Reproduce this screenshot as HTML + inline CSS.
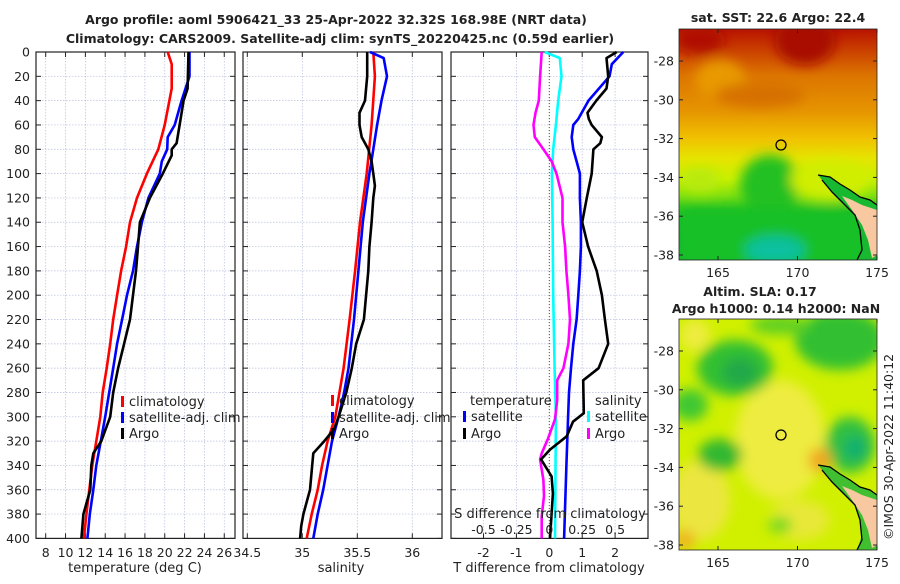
<!DOCTYPE html>
<html><head><meta charset="utf-8">
<style>
html,body{margin:0;padding:0;background:#fff;}
body{width:900px;height:580px;overflow:hidden;font-family:"DejaVu Sans","Liberation Sans",sans-serif;}
svg text{font-family:"DejaVu Sans","Liberation Sans",sans-serif;fill:#222;}
</style></head>
<body>
<svg id="fig" width="900" height="580" viewBox="0 0 900 580" xmlns="http://www.w3.org/2000/svg">
<defs>
<filter id="blur6" x="-20%" y="-20%" width="140%" height="140%"><feGaussianBlur stdDeviation="6"/></filter>
<clipPath id="clipTop"><rect x="679" y="29" width="198" height="231"/></clipPath>
<clipPath id="clipBot"><rect x="679" y="319" width="198" height="231"/></clipPath>
<linearGradient id="sstGrad" x1="0" y1="0" x2="0" y2="1">
<stop offset="0" stop-color="#b81200"/>
<stop offset="0.08" stop-color="#c83a00"/>
<stop offset="0.2" stop-color="#dc7400"/>
<stop offset="0.36" stop-color="#e69600"/>
<stop offset="0.47" stop-color="#f0c000"/>
<stop offset="0.56" stop-color="#e6e400"/>
<stop offset="0.65" stop-color="#c8f000"/>
<stop offset="0.72" stop-color="#80e010"/>
<stop offset="0.8" stop-color="#20c020"/>
<stop offset="1" stop-color="#10b830"/>
</linearGradient>
</defs>
<g id="titles">
<text x="336" y="24" font-size="12.5" font-weight="bold" text-anchor="middle">Argo profile: aoml 5906421_33 25-Apr-2022 32.32S 168.98E (NRT data)</text>
<text x="340" y="43" font-size="12.5" font-weight="bold" text-anchor="middle">Climatology: CARS2009. Satellite-adj clim: synTS_20220425.nc (0.59d earlier)</text>
</g>
<g id="p1"></g><g id="p2"></g><g id="p3"></g>
<g id="maps">
<g clip-path="url(#clipTop)">
<rect x="679" y="29" width="198" height="231" fill="url(#sstGrad)"/>
<g filter="url(#blur6)">
<ellipse cx="805" cy="40" rx="30" ry="25" fill="#a80800"/>
<ellipse cx="700" cy="40" rx="25" ry="14" fill="#b01000"/>
<ellipse cx="720" cy="80" rx="25" ry="20" fill="#e89a00"/>
<ellipse cx="760" cy="95" rx="45" ry="12" fill="#d67000"/>
<ellipse cx="770" cy="185" rx="30" ry="30" fill="#20c020"/>
<ellipse cx="700" cy="180" rx="20" ry="12" fill="#b8ea10"/>
<ellipse cx="830" cy="180" rx="40" ry="20" fill="#d0ee00"/>
<rect x="679" y="208" width="198" height="60" fill="#18c028"/>
<ellipse cx="775" cy="250" rx="30" ry="14" fill="#10c0a0"/>
</g>
<path d="M818,175 L830,177 L840,184 L850,190 L860,197 L870,200 L877,205 L877,260 L857,260 L862,245 L860,230 L855,215 L845,205 L832,192 L822,180 Z" fill="#18b830"/>
<path d="M842,196 L852,200 L862,205 L877,210 L877,255 L872,258 L868,240 L862,225 L852,210 Z" fill="#f8c8a0"/>
<path d="M818,175 L830,177 L840,184 L850,190 L860,197 L870,200 L877,205 M822,180 L832,192 L845,205 L855,215 L860,230 L862,250 L857,260" fill="none" stroke="#000" stroke-width="1.3"/>
<circle cx="781" cy="145" r="5" fill="none" stroke="#000" stroke-width="1.3"/>
</g>
<rect x="679" y="29" width="198" height="231" fill="none" stroke="#222" stroke-width="0.8"/>
<g clip-path="url(#clipBot)">
<rect x="679" y="319" width="198" height="231" fill="#d0f000"/>
<g filter="url(#blur6)">
<ellipse cx="780" cy="440" rx="45" ry="60" fill="#eeec40"/>
<ellipse cx="700" cy="500" rx="30" ry="40" fill="#ece640"/>
<ellipse cx="800" cy="520" rx="30" ry="20" fill="#e8e838"/>
<ellipse cx="695" cy="335" rx="15" ry="16" fill="#eeec40"/>
<ellipse cx="735" cy="368" rx="38" ry="28" fill="#30c030"/>
<ellipse cx="740" cy="372" rx="18" ry="14" fill="#20a848"/>
<ellipse cx="690" cy="405" rx="18" ry="16" fill="#40c830"/>
<ellipse cx="840" cy="340" rx="45" ry="30" fill="#30c030"/>
<ellipse cx="780" cy="325" rx="30" ry="10" fill="#60d020"/>
<ellipse cx="850" cy="445" rx="25" ry="28" fill="#30c040"/>
<ellipse cx="855" cy="448" rx="12" ry="12" fill="#10b070"/>
<ellipse cx="720" cy="455" rx="22" ry="16" fill="#30b830"/>
<ellipse cx="820" cy="460" rx="12" ry="12" fill="#f0a820"/>
<ellipse cx="685" cy="540" rx="10" ry="10" fill="#f0b020"/>
<ellipse cx="780" cy="525" rx="12" ry="8" fill="#70d820"/>
</g>
<path d="M818,465 L830,467 L840,474 L850,480 L860,487 L870,490 L877,495 L877,550 L857,550 L862,535 L860,520 L855,505 L845,495 L832,482 L822,470 Z" fill="#40c030"/>
<path d="M842,486 L852,490 L862,495 L877,500 L877,545 L872,548 L868,530 L862,515 L852,500 Z" fill="#f8c8a0"/>
<path d="M818,465 L830,467 L840,474 L850,480 L860,487 L870,490 L877,495 M822,470 L832,482 L845,495 L855,505 L860,520 L862,540 L857,550" fill="none" stroke="#000" stroke-width="1.3"/>
<circle cx="781" cy="435" r="5" fill="none" stroke="#000" stroke-width="1.3"/>
</g>
<rect x="679" y="319" width="198" height="231" fill="none" stroke="#222" stroke-width="0.8"/>
<text x="778" y="22" font-size="12.5" font-weight="bold" text-anchor="middle">sat. SST: 22.6 Argo: 22.4</text>
<text x="760" y="296" font-size="12.5" font-weight="bold" text-anchor="middle">Altim. SLA: 0.17</text>
<text x="776" y="313" font-size="12.5" font-weight="bold" text-anchor="middle">Argo h1000: 0.14 h2000: NaN</text>
<text transform="translate(893,540) rotate(-90)" font-size="12.5">©IMOS 30-Apr-2022 11:40:12</text>
<g id="mapticks"></g>
</g>
</svg>
<script>
// ---- data ----
const tDepth = [0,10,30,60,80,100,120,140,160,180,200,220,240,260,280,300,320,340,360,380,400];
const tClim  = [20.3,20.7,20.7,20.0,19.35,18.2,17.2,16.5,16.1,15.6,15.2,14.8,14.5,14.15,13.75,13.5,13.1,12.7,12.4,12.1,11.85];
const tSatDepth = [0,20,40,60,70,80,90,100,120,140,160,180,200,220,240,260,280,300,320,340,360,380,400];
const tSat   = [22.5,22.5,21.7,21.0,20.3,20.25,19.7,19.5,18.35,17.7,17.2,16.8,16.2,15.7,15.2,14.8,14.4,14.0,13.55,13.1,12.8,12.45,12.2];
const tArgoDepth = [0,30,40,60,75,80,85,100,120,140,160,180,200,220,240,260,280,300,320,330,340,360,380,400];
const tArgo  = [22.4,22.3,21.9,21.5,21.2,20.7,20.7,19.8,18.5,17.5,17.3,17.1,16.8,16.5,15.9,15.3,14.8,14.5,13.6,12.8,12.6,12.5,11.8,11.6];

const sClimDepth = [0,20,60,100,140,180,220,260,300,320,340,360,380,400];
const sClim  = [35.645,35.66,35.63,35.585,35.525,35.48,35.43,35.375,35.3,35.23,35.18,35.14,35.085,35.04];
const sSatDepth = [0,5,20,40,60,80,100,120,140,180,220,260,280,300,320,340,360,380,400];
const sSat   = [35.615,35.74,35.77,35.72,35.68,35.645,35.61,35.58,35.55,35.51,35.47,35.42,35.38,35.33,35.27,35.23,35.19,35.14,35.1];
const sArgoDepth = [0,20,40,50,60,70,80,90,100,110,120,140,160,180,200,220,240,260,280,300,310,320,330,340,360,380,390,400];
const sArgo  = [35.59,35.59,35.57,35.52,35.52,35.54,35.6,35.63,35.645,35.66,35.645,35.63,35.61,35.6,35.58,35.56,35.49,35.45,35.4,35.33,35.29,35.2,35.1,35.09,35.07,35.01,34.99,34.98];

const dTSatDepth = [0,10,20,40,55,60,70,80,90,100,120,140,160,180,200,220,240,260,280,300,340,400];
const dTSat  = [2.25,1.9,1.83,1.19,0.88,0.73,0.68,0.73,0.83,0.93,0.93,0.96,0.96,0.93,0.88,0.83,0.73,0.66,0.6,0.57,0.52,0.45];
const dTArgoDepth = [0,5,20,30,40,50,55,60,70,75,80,100,120,140,160,180,200,220,240,260,270,297,304,316,327,335,349,363,380,400];
const dTArgo = [2.05,1.74,1.79,1.74,1.43,1.16,1.2,1.29,1.6,1.55,1.34,1.29,1.14,1.0,1.18,1.44,1.6,1.69,1.79,1.5,1.03,1.05,0.72,0.53,0.02,-0.25,0.07,0.11,0.07,0.02];
const dSSatDepth = [0,5,20,40,60,80,100,140,200,260,300,400];
const dSSat  = [-0.035,0.08,0.093,0.068,0.05,0.03,0.02,0.025,0.03,0.04,0.05,0.043];
const dSArgoDepth = [0,20,40,50,60,70,80,90,100,120,140,160,180,200,220,240,260,270,286,302,318,330,335,352,365,382,400];
const dSArgo = [-0.058,-0.07,-0.08,-0.105,-0.12,-0.11,-0.045,0.018,0.055,0.1,0.1,0.12,0.13,0.145,0.157,0.145,0.107,0.06,0.06,0.043,-0.01,-0.058,-0.07,-0.045,-0.04,-0.058,-0.058];

const depthTicks = [0,20,40,60,80,100,120,140,160,180,200,220,240,260,280,300,320,340,360,380,400];
const tTicks = [8,10,12,14,16,18,20,22,24,26];
const sTicks = [34.5,35,35.5,36];
const sTickLabels = ["34.5","35","35.5","36"];
const dTTicks = [-2,-1,0,1,2];
const dSTicks = [-0.5,-0.25,0,0.25,0.5];
const dSTickLabels = ["-0.5","-0.25","0","0.25","0.5"];
const latTicks = [-28,-30,-32,-34,-36,-38];
const lonTicks = [165,170,175];

// ---- scales ----
const NS = "http://www.w3.org/2000/svg";
const yD = d => 52 + d*1.216;
const xT = t => 45.7 + (t-8)*9.92;
const xS = s => 247.3 + (s-34.5)*110;
const xDT = v => 549.3 + v*32.9;
const xDS = v => 549.3 + v*131.6;
const mapX = lon => 718 + (lon-165)*15.9;
const mapYTop = lat => 61 + (-28-lat)*19.4;
const mapYBot = lat => 351 + (-28-lat)*19.4;

function mk(tag, attrs, parent){
  const e = document.createElementNS(NS, tag);
  for (const k in attrs) e.setAttribute(k, attrs[k]);
  parent.appendChild(e);
  return e;
}
function txt(parent, x, y, s, size, anchor){
  const t = mk('text', {x:x, y:y, 'font-size':size, 'text-anchor':anchor||'middle'}, parent);
  t.textContent = s;
  return t;
}

const PANELS = [{g:'p1', x0:36, x1:235}, {g:'p2', x0:243, x1:442}, {g:'p3', x0:451, x1:648}];
const Y0 = 52, Y1 = 538.4;

function frame(p, xs, xScale, labels, showY){
  const g = document.getElementById(p.g);
  depthTicks.forEach(d => {
    const l = mk('line', {x1:p.x0, x2:p.x1, y1:yD(d), y2:yD(d), stroke:'#b8bede', 'stroke-width':0.7, 'stroke-dasharray':'1.5,1.5'}, g);
    
    
  });
  xs.forEach(v => {
    const x = xScale(v);
    const l = mk('line', {x1:x, x2:x, y1:Y0, y2:Y1, stroke:'#b8bede', 'stroke-width':0.7, 'stroke-dasharray':'1.5,1.5'}, g);
    
    
  });
  depthTicks.forEach(d => {
    mk('line', {x1:p.x0, x2:p.x0+5, y1:yD(d), y2:yD(d), stroke:'#222', 'stroke-width':1}, g);
    mk('line', {x1:p.x1-5, x2:p.x1, y1:yD(d), y2:yD(d), stroke:'#222', 'stroke-width':1}, g);
    if (showY) {
      const t = txt(g, p.x0-6, yD(d)+4.5, String(d), 12.5, 'end');
      
      
    }
  });
  xs.forEach((v,i) => {
    const x = xScale(v);
    mk('line', {x1:x, x2:x, y1:Y1-5, y2:Y1, stroke:'#222', 'stroke-width':1}, g);
    mk('line', {x1:x, x2:x, y1:Y0, y2:Y0+5, stroke:'#222', 'stroke-width':1}, g);
    const t = txt(g, x, 557, labels[i], 12.5);
    
    
  });
  const r = mk('rect', {x:p.x0, y:Y0, width:p.x1-p.x0, height:Y1-Y0, fill:'none', stroke:'#222', 'stroke-width':1.2}, g);
  
  
  return g;
}
function line(g, depths, vals, xScale, color, name){
  const pts = depths.map((d,i) => xScale(vals[i]).toFixed(1)+','+yD(d).toFixed(1)).join(' ');
  const pl = mk('polyline', {points:pts, fill:'none', stroke:color, 'stroke-width':2.6, 'stroke-linejoin':'round'}, g);
  
  
}
function legendItem(g, x, y, color, label, name){
  const r = mk('rect', {x:x, y:y-10, width:3, height:11, fill:color}, g);
  
  
  const t = txt(g, x+8, y, label, 13, 'start');
  
  
}

const g1 = frame(PANELS[0], tTicks, xT, tTicks.map(String), true);
line(g1, tDepth, tClim, xT, '#ff0000', 'temp-climatology-line');
line(g1, tSatDepth, tSat, xT, '#0000ff', 'temp-satellite-line');
line(g1, tArgoDepth, tArgo, xT, '#000000', 'temp-argo-line');
legendItem(g1, 121, 406, '#ff0000', 'climatology', 'legend-climatology');
legendItem(g1, 121, 422, '#0000ff', 'satellite-adj. clim', 'legend-satellite');
legendItem(g1, 121, 438, '#000000', 'Argo', 'legend-argo');
let t1 = txt(g1, 135, 572, 'temperature (deg C)', 13);



const g2 = frame(PANELS[1], sTicks, xS, sTickLabels, false);
line(g2, sClimDepth, sClim, xS, '#ff0000', 'sal-climatology-line');
line(g2, sSatDepth, sSat, xS, '#0000ff', 'sal-satellite-line');
line(g2, sArgoDepth, sArgo, xS, '#000000', 'sal-argo-line');
legendItem(g2, 331, 405, '#ff0000', 'climatology', 'legend-sal-climatology');
legendItem(g2, 331, 422, '#0000ff', 'satellite-adj. clim', 'legend-sal-satellite');
legendItem(g2, 331, 438, '#000000', 'Argo', 'legend-sal-argo');
let t2 = txt(g2, 341, 572, 'salinity', 13);



const g3 = frame(PANELS[2], dTTicks, xDT, dTTicks.map(String), false);
const zl = mk('line', {x1:xDT(0), x2:xDT(0), y1:Y0, y2:Y1, stroke:'#6b4a2a', 'stroke-width':1, 'stroke-dasharray':'1,2'}, g3);


line(g3, dSSatDepth, dSSat, xDS, '#00ffff', 'sdiff-satellite-line');
line(g3, dSArgoDepth, dSArgo, xDS, '#ff00ff', 'sdiff-argo-line');
line(g3, dTSatDepth, dTSat, xDT, '#0000ff', 'tdiff-satellite-line');
line(g3, dTArgoDepth, dTArgo, xDT, '#000000', 'tdiff-argo-line');
let lt = txt(g3, 470, 405, 'temperature', 13, 'start');


legendItem(g3, 463, 421, '#0000ff', 'satellite', 'legend-tdiff-satellite');
legendItem(g3, 463, 438, '#000000', 'Argo', 'legend-tdiff-argo');
let ls = txt(g3, 595, 405, 'salinity', 13, 'start');


legendItem(g3, 587, 421, '#00ffff', 'satellite', 'legend-sdiff-satellite');
legendItem(g3, 587, 438, '#ff00ff', 'Argo', 'legend-sdiff-argo');
let sd = txt(g3, 550, 518, 'S difference from climatology', 13);


dSTicks.forEach((v,i) => {
  const t = txt(g3, xDS(v), 534, dSTickLabels[i], 12.5);
  
  
});
let td = txt(g3, 549, 572, 'T difference from climatology', 13);



const mt = document.getElementById('mapticks');
[[mapYTop, 29, 260], [mapYBot, 319, 550]].forEach(([yf, top, bot]) => {
  latTicks.forEach(lat => {
    const y = yf(lat);
    mk('line', {x1:679, x2:683, y1:y, y2:y, stroke:'#222'}, mt);
    mk('line', {x1:873, x2:877, y1:y, y2:y, stroke:'#222'}, mt);
    const t = txt(mt, 674, y+4.5, String(lat), 12.5, 'end');
    
    
  });
  lonTicks.forEach(lon => {
    const x = mapX(lon);
    mk('line', {x1:x, x2:x, y1:bot-4, y2:bot, stroke:'#222'}, mt);
    mk('line', {x1:x, x2:x, y1:top, y2:top+4, stroke:'#222'}, mt);
    const t = txt(mt, x, bot+17, String(lon), 12.5);
    
    
  });
});
</script>
</body></html>
